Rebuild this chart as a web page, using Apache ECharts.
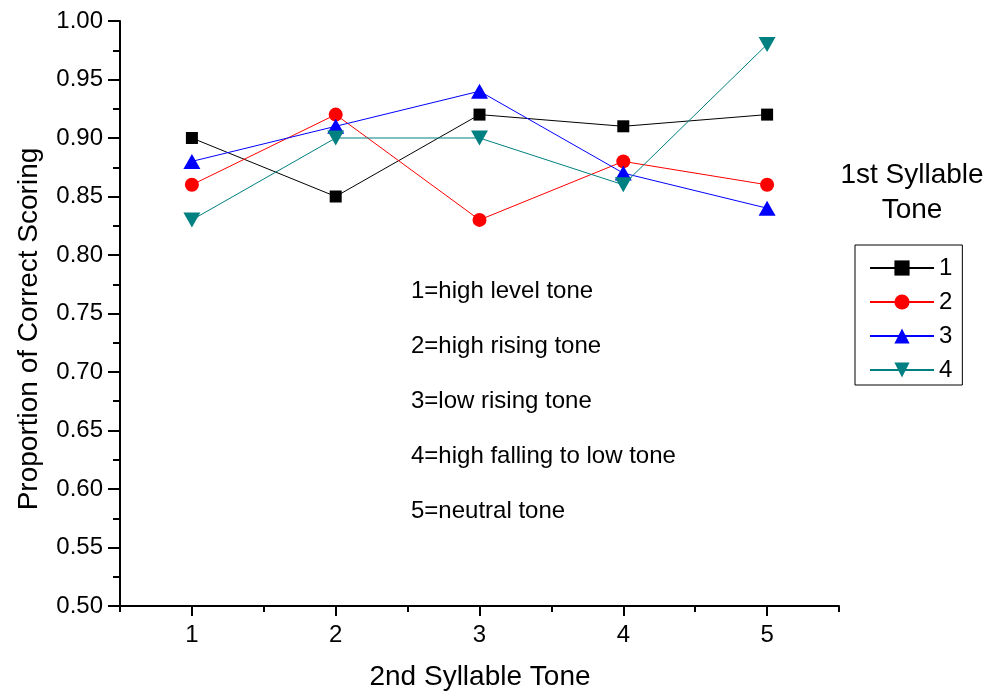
<!DOCTYPE html>
<html>
<head>
<meta charset="utf-8">
<script src="https://cdn.jsdelivr.net/npm/echarts@6/dist/echarts.min.js"></script>
<style>html,body{margin:0;padding:0;background:#fff;}#c{width:988px;height:698px;}</style>
</head>
<body>
<div id="c"></div>
<script>
const categories = [1, 2, 3, 4, 5];
const tone1 = [0.90, 0.85, 0.92, 0.91, 0.92];
const tone2 = [0.86, 0.92, 0.83, 0.88, 0.86];
const tone3 = [0.88, 0.91, 0.94, 0.87, 0.84];
const tone4 = [0.83, 0.90, 0.90, 0.86, 0.98];
const seriesNames = ['1', '2', '3', '4'];
const noteLines = ['1=high level tone', '2=high rising tone', '3=low rising tone', '4=high falling to low tone', '5=neutral tone'];
const xTitle = '2nd Syllable Tone';
const yTitle = 'Proportion of Correct Scoring';
const legendTitle = ['1st Syllable', 'Tone'];

const FONT = 'Liberation Sans, Arial, sans-serif';
const chart = echarts.init(document.getElementById('c'));

function pairs(vals) { return categories.map((c, i) => [c, vals[i]]); }

const downTri = 'path://M0,0 L10,0 L5,9 Z';
const specs = [
  { data: tone1, color: '#000000', symbol: 'rect', size: 12 },
  { data: tone2, color: '#ff0000', symbol: 'circle', size: 14 },
  { data: tone3, color: '#0000ff', symbol: 'triangle', size: [17, 15] },
  { data: tone4, color: '#008080', symbol: downTri, size: [17, 15] }
];

const graphics = [];
noteLines.forEach((t, i) => {
  graphics.push({ type: 'text', x: 411, y: 291 + i * 55,
    style: { text: t, font: '24px ' + FONT, fill: '#000', verticalAlign: 'middle' } });
});
graphics.push({ type: 'text', x: 480, y: 677,
  style: { text: xTitle, font: '28px ' + FONT, fill: '#000', align: 'center', verticalAlign: 'middle' } });
graphics.push({ type: 'text', x: 29, y: 329, rotation: Math.PI / 2,
  style: { text: yTitle, font: '28px ' + FONT, fill: '#000', align: 'center', verticalAlign: 'middle' } });
legendTitle.forEach((t, i) => {
  graphics.push({ type: 'text', x: 912, y: 175 + i * 35,
    style: { text: t, font: '28px ' + FONT, fill: '#000', align: 'center', verticalAlign: 'middle' } });
});

const option = {
  animation: false,
  backgroundColor: '#ffffff',
  grid: { left: 120, right: 149, top: 21, bottom: 92, containLabel: false },
  xAxis: [
    {
      type: 'value', min: 0.5, max: 5.5,
      axisLine: { show: true, lineStyle: { color: '#000', width: 2 } },
      axisTick: { show: true, customValues: categories, length: 10, lineStyle: { color: '#000', width: 2 } },
      axisLabel: { show: true, customValues: categories, margin: 17, fontSize: 24, fontFamily: FONT, color: '#000' },
      splitLine: { show: false }
    },
    {
      type: 'value', min: 0.5, max: 5.5, interval: 0.5, position: 'bottom',
      axisLine: { show: false },
      axisTick: { show: true, length: 6, lineStyle: { color: '#000', width: 2 } },
      axisLabel: { show: false },
      splitLine: { show: false }
    }
  ],
  yAxis: {
    type: 'value', min: 0.5, max: 1.0, interval: 0.05,
    axisLine: { show: true, lineStyle: { color: '#000', width: 2 } },
    axisTick: { show: true, length: 12, lineStyle: { color: '#000', width: 2 } },
    minorTick: { show: true, splitNumber: 2, length: 7, lineStyle: { color: '#000', width: 2 } },
    axisLabel: { margin: 17, fontSize: 24, fontFamily: FONT, color: '#000', formatter: v => v.toFixed(2) },
    splitLine: { show: false }
  },
  legend: {
    orient: 'vertical', left: 855, top: 245,
    padding: [11, 10, 3, 14],
    itemWidth: 64, itemHeight: 19, itemGap: 10,
    borderColor: '#000', borderWidth: 1,
    textStyle: { fontSize: 24, fontFamily: FONT, color: '#000', lineHeight: 24 },
    data: seriesNames
  },
  graphic: graphics,
  series: specs.map((s, i) => ({
    name: seriesNames[i], type: 'line', xAxisIndex: 0,
    data: pairs(s.data),
    symbol: s.symbol, symbolSize: s.size, showAllSymbol: true,
    lineStyle: { color: s.color, width: 1 },
    itemStyle: { color: s.color },
    emphasis: { disabled: true }
  }))
};
chart.setOption(option);
</script>
</body>
</html>
